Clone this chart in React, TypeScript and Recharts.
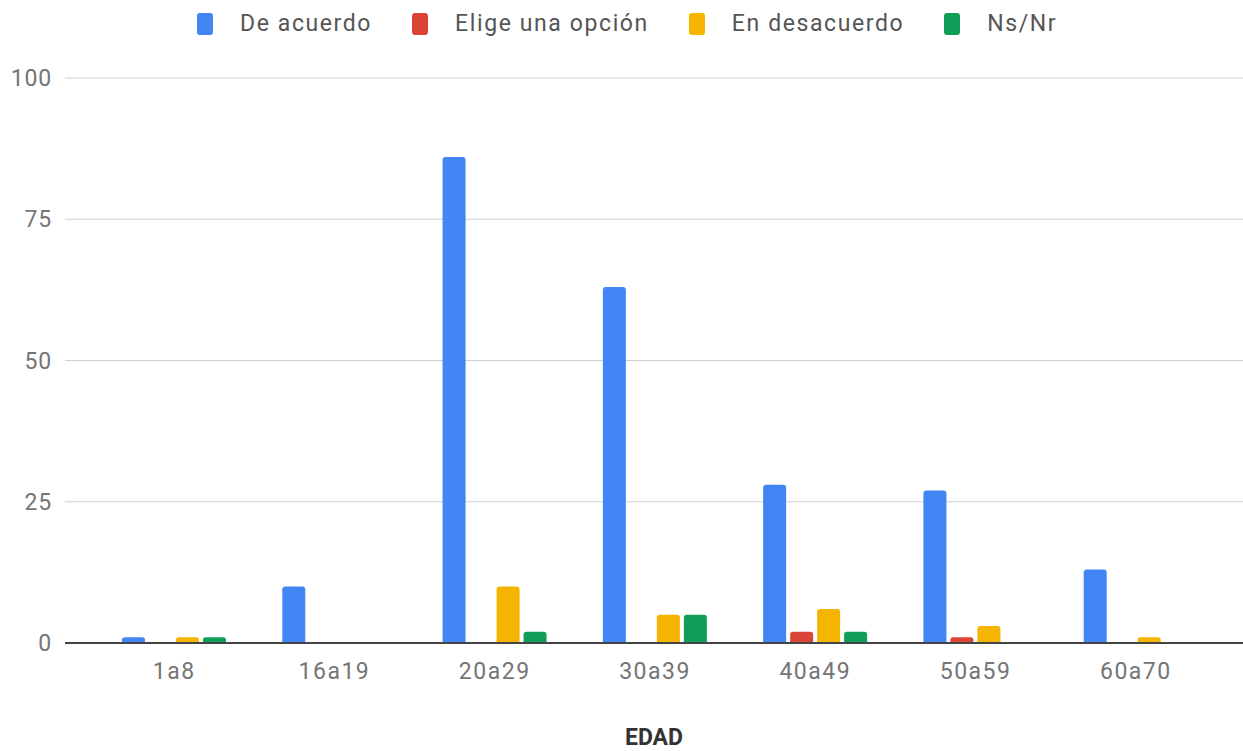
import { Bar, BarChart, CartesianGrid, XAxis, YAxis } from 'recharts';

const categories = ['1a8', '16a19', '20a29', '30a39', '40a49', '50a59', '60a70'];
const deAcuerdo = [1, 10, 86, 63, 28, 27, 13];
const eligeOpcion = [0, 0, 0, 0, 2, 1, 0];
const enDesacuerdo = [1, 0, 10, 5, 6, 3, 1];
const nsNr = [1, 0, 2, 5, 2, 0, 0];
const yTicks = [0, 25, 50, 75, 100];

const series = [
  { key: 'deAcuerdo', name: 'De acuerdo', color: '#4285f4' },
  { key: 'eligeOpcion', name: 'Elige una opción', color: '#db4437' },
  { key: 'enDesacuerdo', name: 'En desacuerdo', color: '#f4b400' },
  { key: 'nsNr', name: 'Ns/Nr', color: '#0f9d58' },
];

const data = categories.map((edad, i) => ({
  edad,
  deAcuerdo: deAcuerdo[i],
  eligeOpcion: eligeOpcion[i],
  enDesacuerdo: enDesacuerdo[i],
  nsNr: nsNr[i],
}));

const font = 'Roboto, "Noto Sans", sans-serif';

function TopLegend() {
  return (
    <div
      style={{
        position: 'absolute',
        top: 10,
        left: 197,
        display: 'flex',
        alignItems: 'center',
        fontFamily: font,
        fontSize: 23,
        letterSpacing: 1.6,
        color: '#555',
        whiteSpace: 'nowrap',
      }}
    >
      {series.map((s) => (
        <div key={s.key} style={{ display: 'flex', alignItems: 'center', marginRight: 40 }}>
          <span
            style={{
              display: 'inline-block',
              width: 16,
              height: 22,
              borderRadius: 3,
              background: s.color,
              marginRight: 27,
            }}
          />
          <span>{s.name}</span>
        </div>
      ))}
    </div>
  );
}

export default function App() {
  return (
    <div style={{ position: 'absolute', left: 0, top: 0, width: 1243, height: 751, background: '#fff' }}>
      <TopLegend />
      <BarChart
        width={1243}
        height={751}
        data={data}
        margin={{ top: 78, right: 0, left: 0, bottom: 0 }}
        barGap={4}
        barCategoryGap="17%"
      >
        <CartesianGrid vertical={false} stroke="#d0d0d0" />
        <XAxis
          dataKey="edad"
          height={108}
          padding={{ left: 29, right: 27 }}
          axisLine={{ stroke: '#444', strokeWidth: 2 }}
          tickLine={false}
          tickMargin={14}
          tick={{ fill: '#757575', fontSize: 23, fontFamily: font, letterSpacing: 1.5 }}
          label={{
            value: 'EDAD',
            position: 'insideBottom',
            offset: 6,
            fill: '#333',
            fontSize: 23,
            fontWeight: 'bold',
            fontFamily: font,
          }}
        />
        <YAxis
          width={65}
          domain={[0, 100]}
          ticks={yTicks}
          axisLine={false}
          tickLine={false}
          tickSize={0}
          tickMargin={13}
          tick={{ fill: '#757575', fontSize: 23, fontFamily: font, letterSpacing: 0.8 }}
        />
        {series.map((s) => (
          <Bar
            key={s.key}
            dataKey={s.key}
            name={s.name}
            fill={s.color}
            barSize={23}
            radius={[3, 3, 0, 0]}
            isAnimationActive={false}
          />
        ))}
      </BarChart>
    </div>
  );
}
